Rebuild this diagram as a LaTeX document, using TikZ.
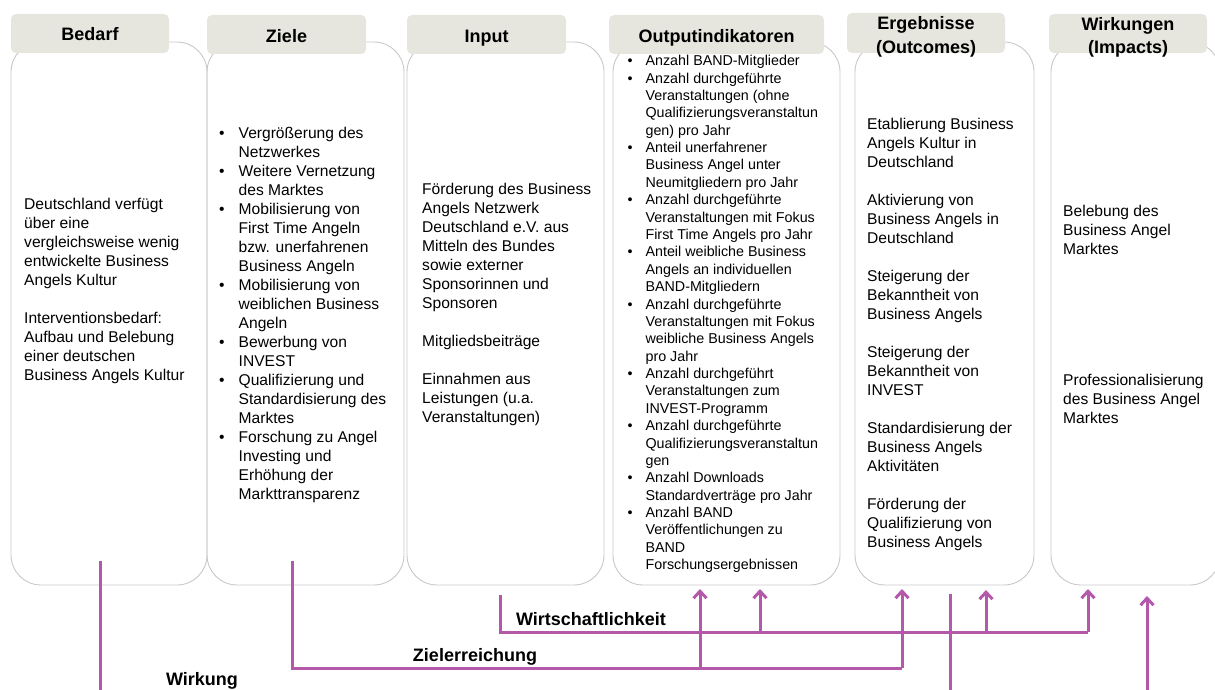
\documentclass[tikz,border=0pt]{standalone}
\usepackage{fontspec}
\setmainfont{Liberation Sans}
\usetikzlibrary{arrows.meta}

\definecolor{tabfill}{RGB}{230,230,222}
\definecolor{panelgray}{RGB}{200,200,200}
\definecolor{linkpurple}{RGB}{180,88,170}

\newcommand{\bitem}{\makebox[1.25em][l]{\textbullet}}
\newcommand{\bcont}{\hspace*{1.25em}}
\newcommand{\twolines}[2]{\raisebox{-8pt}[18pt][18pt]{\begin{tabular}{@{}c@{}}#1\\#2\end{tabular}}}

\tikzset{
    panel/.style={draw=panelgray, line width=0.9pt, rounded corners=30pt},
    tab/.style={fill=tabfill, rounded corners=5pt, inner sep=0pt, align=center, minimum height=39pt, text height=16pt, text depth=0pt, font=\bfseries\fontsize{18}{23.5}\selectfont},
    tabtwo/.style={fill=tabfill, rounded corners=5pt, inner sep=0pt, minimum height=39pt, font=\bfseries\fontsize{18}{23.5}\selectfont},
    body/.style={anchor=west, inner sep=0pt, align=left, font=\fontsize{15.6}{19}\selectfont},
    smallbody/.style={body, font=\fontsize{14.3}{17.38}\selectfont},
    link/.style={draw=linkpurple, line width=3pt},
    up/.style={link, -{Straight Barb[length=7pt, width=13pt]}},
    linklabel/.style={inner sep=0pt, font=\bfseries\fontsize{18}{22}\selectfont}
}

\begin{document}
\begin{tikzpicture}[x=1pt, y=-1pt]
    \useasboundingbox (0, 0) rectangle (1215, 690);

    % columns
    \draw[panel] (11, 42) rectangle (207, 585);
    \draw[panel] (207, 42) rectangle (404, 585);
    \draw[panel] (407, 42) rectangle (604, 585);
    \draw[panel] (613, 42) rectangle (840, 585);
    \draw[panel] (855, 42) rectangle (1034, 585);
    \draw[panel] (1051, 42) rectangle (1220, 585);

    \node[tab, minimum width=158pt, text height=14pt] (bedarf) at (90, 33.5) {Bedarf};
    \node[tab, minimum width=159pt] (ziele) at (286.5, 34.5) {Ziele};
    \node[tab, minimum width=159pt] (input) at (486.5, 34.5) {Input};
    \node[tab, minimum width=215pt] (output) at (716.5, 34.5) {Outputindikatoren};
    \node[tabtwo, minimum width=158pt, minimum height=40pt] (ergebnisse) at (926, 33) {\twolines{Ergebnisse}{(Outcomes)}};
    \node[tabtwo, minimum width=158pt] (wirkungen) at (1128, 33.5) {\twolines{Wirkungen}{(Impacts)}};

    % texts
    \node[body] (bedarf-text) at (24, 291) {Deutschland verfügt\\über eine\\vergleichsweise wenig\\entwickelte Business\\Angels Kultur\\[19pt]Interventionsbedarf:\\Aufbau und Belebung\\einer deutschen\\Business Angels Kultur};

    \node[body] (ziele-text) at (219, 315) {\bitem Vergrößerung des\\\bcont Netzwerkes\\\bitem Weitere Vernetzung\\\bcont des Marktes\\\bitem Mobilisierung von\\\bcont First Time Angeln\\\bcont bzw. unerfahrenen\\\bcont Business Angeln\\\bitem Mobilisierung von\\\bcont weiblichen Business\\\bcont Angeln\\\bitem Bewerbung von\\\bcont INVEST\\\bitem Qualifizierung und\\\bcont Standardisierung des\\\bcont Marktes\\\bitem Forschung zu Angel\\\bcont Investing und\\\bcont Erhöhung der\\\bcont Markttransparenz};

    \node[body] (input-text) at (422, 304) {Förderung des Business\\Angels Netzwerk\\Deutschland e.V. aus\\Mitteln des Bundes\\sowie externer\\Sponsorinnen und\\Sponsoren\\[19pt]Mitgliedsbeiträge\\[19pt]Einnahmen aus\\Leistungen (u.a.\\Veranstaltungen)};

    \node[smallbody] (output-text) at (627.5, 314) {\bitem Anzahl BAND-Mitglieder\\\bitem Anzahl durchgeführte\\\bcont Veranstaltungen (ohne\\\bcont Qualifizierungsveranstaltun\\\bcont gen) pro Jahr\\\bitem Anteil unerfahrener\\\bcont Business Angel unter\\\bcont Neumitgliedern pro Jahr\\\bitem Anzahl durchgeführte\\\bcont Veranstaltungen mit Fokus\\\bcont First Time Angels pro Jahr\\\bitem Anteil weibliche Business\\\bcont Angels an individuellen\\\bcont BAND-Mitgliedern\\\bitem Anzahl durchgeführte\\\bcont Veranstaltungen mit Fokus\\\bcont weibliche Business Angels\\\bcont pro Jahr\\\bitem Anzahl durchgeführt\\\bcont Veranstaltungen zum\\\bcont INVEST-Programm\\\bitem Anzahl durchgeführte\\\bcont Qualifizierungsveranstaltun\\\bcont gen\\\bitem Anzahl Downloads\\\bcont Standardverträge pro Jahr\\\bitem Anzahl BAND\\\bcont Veröffentlichungen zu\\\bcont BAND\\\bcont Forschungsergebnissen};

    \node[body] (ergebnisse-text) at (867, 334) {Etablierung Business\\Angels Kultur in\\Deutschland\\[19pt]Aktivierung von\\Business Angels in\\Deutschland\\[19pt]Steigerung der\\Bekanntheit von\\Business Angels\\[19pt]Steigerung der\\Bekanntheit von\\INVEST\\[19pt]Standardisierung der\\Business Angels\\Aktivitäten\\[19pt]Förderung der\\Qualifizierung von\\Business Angels};

    \node[body] (belebung) at (1063, 230) {Belebung des\\Business Angel\\Marktes};
    \node[body] (profi) at (1063, 399) {Professionalisierung\\des Business Angel\\Marktes};

    % connectors
    \coordinate (wk-top) at (100, 561);
    \coordinate (wk-end) at (100, 690);
    \coordinate (ze-top) at (292, 561);
    \coordinate (ze-bend) at (292, 668);
    \coordinate (ze-end) at (902, 668);
    \coordinate (ws-top) at (500, 595);
    \coordinate (ws-bend) at (500, 632);
    \coordinate (ws-end) at (1088, 632);
    \coordinate (out-a) at (700, 589);
    \coordinate (out-b) at (760, 589);
    \coordinate (erg-a) at (902, 589);
    \coordinate (erg-b) at (986, 590);
    \coordinate (wi-a) at (1088, 589);
    \coordinate (wi-b) at (1147, 596);
    \coordinate (erg-line) at (950, 594);

    \draw[link] (wk-top) -- (wk-end);
    \node[linklabel] (wirkung) at (202, 681) {Wirkung};

    \draw[link] (ze-top) -- (ze-bend) -- (ze-end);
    \node[linklabel] (zielerreichung) at (475, 657) {Zielerreichung};

    \draw[link] (ws-top) -- (ws-bend) -- (ws-end);
    \node[linklabel] (wirtschaftlichkeit) at (591, 619) {Wirtschaftlichkeit};

    \draw[up] (out-a |- ze-end) -- (out-a);
    \draw[up] (out-b |- ws-end) -- (out-b);
    \draw[up] (erg-a |- ze-end) -- (erg-a);
    \draw[up] (erg-b |- ws-end) -- (erg-b);
    \draw[up] (wi-a |- ws-end) -- (wi-a);
    \draw[link] (erg-line) -- (erg-line |- wk-end);
    \draw[up] (wi-b |- wk-end) -- (wi-b);
\end{tikzpicture}
\end{document}
